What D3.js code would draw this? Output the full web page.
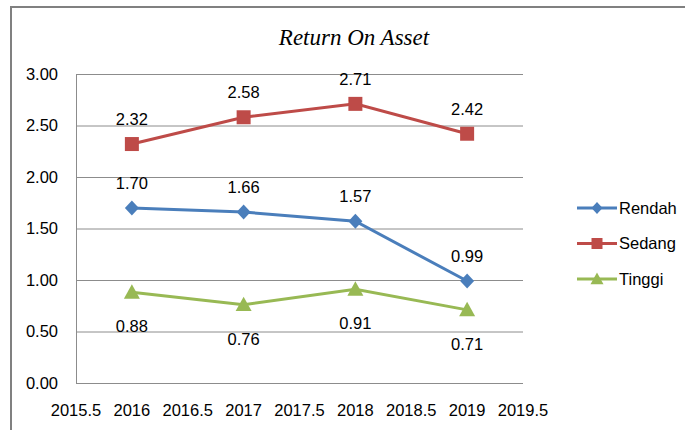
<!DOCTYPE html>
<html>
<head>
<meta charset="utf-8">
<script src="https://d3js.org/d3.v7.min.js"></script>
<style>
  body { margin: 0; background: #fff; }
  svg { display: block; }
</style>
</head>
<body>
<div id="chart"></div>
<script>
// Data
const years = [2016, 2017, 2018, 2019];
const rendah = [1.70, 1.66, 1.57, 0.99];
const sedang = [2.32, 2.58, 2.71, 2.42];
const tinggi = [0.88, 0.76, 0.91, 0.71];
const seriesNames = ['Rendah', 'Sedang', 'Tinggi'];
const xTicks = [2015.5, 2016, 2016.5, 2017, 2017.5, 2018, 2018.5, 2019, 2019.5];
const yTicks = [0, 0.5, 1, 1.5, 2, 2.5, 3];

const width = 685, height = 430;
const plot = { left: 76, right: 523, top: 74, bottom: 383 };

// Excel-like marker shapes
const diamond = (w, h) => `M0,${-h}L${w},0L0,${h}L${-w},0Z`;
const square = s => `M${-s},${-s}H${s}V${s}H${-s}Z`;
const triangle = (w, h) => `M0,${-h}L${w},${h * 0.8}L${-w},${h * 0.8}Z`;

const series = [
    { name: seriesNames[0], values: rendah, color: '#4A7EBB', marker: diamond(7, 7.5), legendMarker: diamond(5.5, 6), label: 'above' },
    { name: seriesNames[1], values: sedang, color: '#BE4B48', marker: square(7), legendMarker: square(5.5), label: 'above' },
    { name: seriesNames[2], values: tinggi, color: '#98B954', marker: triangle(8, 8), legendMarker: triangle(6.5, 6.5), label: 'below' }
];

const svg = d3.select('#chart')
    .append('svg')
    .attr('width', width)
    .attr('height', height);

// Outer chart border
svg.append('rect')
    .attr('x', 11)
    .attr('y', 7)
    .attr('width', 690)
    .attr('height', 440)
    .attr('fill', 'none')
    .attr('stroke', '#808080')
    .attr('stroke-width', 2);

const x = d3.scaleLinear().domain([2015.5, 2019.5]).range([plot.left, plot.right]);
const y = d3.scaleLinear().domain([0, 3]).range([plot.bottom, plot.top]);

// Gridlines
svg.append('g')
    .selectAll('line')
    .data(yTicks)
    .join('line')
    .attr('x1', plot.left)
    .attr('x2', plot.right)
    .attr('y1', d => y(d) + 0.5)
    .attr('y2', d => y(d) + 0.5)
    .attr('stroke', '#8c8c8c')
    .attr('stroke-width', 1);

// Left axis line
svg.append('line')
    .attr('x1', plot.left + 0.5)
    .attr('x2', plot.left + 0.5)
    .attr('y1', plot.top)
    .attr('y2', plot.bottom)
    .attr('stroke', '#8c8c8c');

const tickFont = '"Liberation Sans", Arial, sans-serif';

// Y tick labels
svg.append('g')
    .selectAll('text')
    .data(yTicks)
    .join('text')
    .attr('x', 58)
    .attr('y', d => y(d))
    .attr('dy', '0.35em')
    .attr('text-anchor', 'end')
    .style('font-family', tickFont)
    .style('font-size', '16.5px')
    .style('fill', '#000')
    .text(d => d3.format('.2f')(d));

// X tick labels
svg.append('g')
    .selectAll('text')
    .data(xTicks)
    .join('text')
    .attr('x', d => x(d))
    .attr('y', 416)
    .attr('text-anchor', 'middle')
    .style('font-family', tickFont)
    .style('font-size', '16.5px')
    .style('fill', '#000')
    .text(d => d % 1 === 0 ? d : d.toFixed(1));

// Title
svg.append('text')
    .attr('x', 354)
    .attr('y', 45)
    .attr('text-anchor', 'middle')
    .style('font-family', '"Liberation Serif", "Times New Roman", serif')
    .style('font-style', 'italic')
    .style('font-size', '23px')
    .text('Return On Asset');

const line = d3.line()
    .x((d, i) => x(years[i]))
    .y(d => y(d));

series.forEach(s => {
    svg.append('path')
        .datum(s.values)
        .attr('d', line)
        .attr('fill', 'none')
        .attr('stroke', s.color)
        .attr('stroke-width', 3);

    svg.append('g')
        .selectAll('path')
        .data(s.values)
        .join('path')
        .attr('transform', (d, i) => `translate(${x(years[i])},${y(d)})`)
        .attr('d', s.marker)
        .attr('fill', s.color);

    svg.append('g')
        .selectAll('text')
        .data(s.values)
        .join('text')
        .attr('x', (d, i) => x(years[i]))
        .attr('y', d => s.label === 'above' ? y(d) - 19 : y(d) + 40)
        .attr('text-anchor', 'middle')
        .style('font-family', tickFont)
        .style('font-size', '16.5px')
        .style('fill', '#000')
        .text(d => d3.format('.2f')(d));
});

// Legend
const legend = svg.append('g');
series.forEach((s, i) => {
    const ly = 208 + i * 35.5;
    legend.append('line')
        .attr('x1', 577)
        .attr('x2', 617)
        .attr('y1', ly)
        .attr('y2', ly)
        .attr('stroke', s.color)
        .attr('stroke-width', 3);
    legend.append('path')
        .attr('transform', `translate(597,${ly})`)
        .attr('d', s.legendMarker)
        .attr('fill', s.color);
    legend.append('text')
        .attr('x', 619)
        .attr('y', ly)
        .attr('dy', '0.35em')
        .style('font-family', tickFont)
        .style('font-size', '16.5px')
        .style('fill', '#000')
        .text(s.name);
});
</script>
</body>
</html>
